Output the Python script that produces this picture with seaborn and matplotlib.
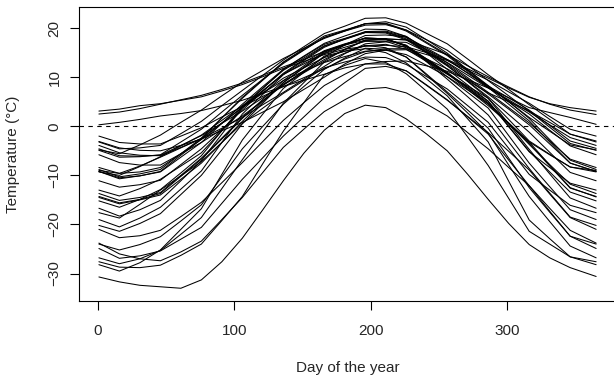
import matplotlib
matplotlib.use("Agg")
import matplotlib.pyplot as plt
import seaborn as sns
import pandas as pd

# dias donde se leen los valores de cada curva
days = [1, 16, 31, 46, 61, 76, 91, 106, 121, 136, 151, 166, 181, 196, 211, 226, 241, 256, 271, 286, 301, 316, 331, 346, 365]

## Temperaturas (una lista por estacion)
st_johns = [-3.1, -4.4, -4.9, -5.0, -3.9, -2.6, -0.9, 0.8, 2.9, 5.0, 7.5, 10.0, 12.7, 14.8, 15.5, 15.6, 13.7, 11.7, 9.3, 6.8, 5.0, 3.1, 0.8, -1.6, -3.0]
halifax = [-4.6, -6.0, -6.1, -5.9, -3.9, -1.9, 0.6, 3.1, 5.8, 8.4, 10.9, 13.3, 15.7, 17.5, 17.8, 17.6, 15.6, 13.5, 10.9, 8.2, 5.8, 3.3, 0.2, -3.0, -4.5]
sydney = [-3.9, -5.4, -5.9, -6.0, -4.3, -2.5, -0.4, 1.8, 4.4, 6.9, 9.6, 12.2, 14.8, 16.8, 17.2, 17.1, 15.1, 13.0, 10.4, 7.8, 5.4, 2.9, 0.3, -2.3, -3.9]
yarmouth = [-2.0, -3.3, -3.6, -3.6, -2.0, -0.3, 1.9, 4.0, 6.1, 8.1, 9.9, 11.7, 13.7, 15.2, 15.8, 15.8, 14.6, 13.4, 11.4, 9.4, 7.0, 4.7, 2.0, -0.6, -2.0]
charlottetown = [-5.8, -7.4, -7.9, -7.9, -5.6, -3.3, -0.6, 2.1, 5.2, 8.4, 11.3, 14.1, 16.6, 18.5, 18.6, 18.2, 15.9, 13.6, 10.8, 7.9, 5.2, 2.5, -0.8, -4.0, -5.8]
fredericton = [-8.4, -9.6, -9.3, -8.4, -5.6, -2.7, 0.6, 3.9, 7.3, 10.6, 13.4, 16.1, 17.8, 19.3, 19.4, 18.3, 15.6, 12.9, 9.9, 6.9, 3.8, 0.7, -3.0, -6.7, -8.4]
schefferville = [-21.0, -22.7, -22.3, -21.2, -18.4, -15.5, -11.5, -7.4, -3.1, 1.2, 4.8, 8.3, 10.6, 12.7, 12.7, 11.3, 8.3, 5.3, 2.0, -1.3, -5.1, -8.9, -13.8, -18.6, -21.0]
arvida = [-14.3, -15.6, -14.9, -13.7, -10.2, -6.7, -2.6, 1.6, 5.5, 9.3, 12.3, 15.3, 16.7, 18.0, 17.8, 16.3, 13.7, 11.0, 7.8, 4.5, 0.5, -3.5, -8.1, -12.6, -14.3]
bagotville = [-14.5, -15.8, -15.0, -14.0, -10.8, -7.5, -3.3, 1.0, 5.0, 8.9, 11.9, 14.9, 16.5, 18.0, 17.8, 16.3, 13.5, 10.7, 7.5, 4.2, 0.5, -3.2, -7.9, -12.5, -14.4]
quebec = [-11.1, -12.4, -11.9, -11.0, -7.8, -4.6, -0.7, 3.3, 7.1, 10.8, 13.6, 16.3, 17.7, 19.1, 19.0, 17.6, 15.0, 12.3, 9.2, 6.0, 2.4, -1.2, -5.3, -9.4, -11.1]
sherbrooke = [-9.2, -10.5, -10.1, -9.3, -6.3, -3.3, 0.6, 4.5, 8.1, 11.6, 14.2, 16.7, 17.9, 19.2, 19.2, 17.8, 15.2, 12.6, 9.6, 6.6, 3.5, 0.3, -3.6, -7.5, -9.2]
montreal = [-8.8, -10.3, -9.7, -8.8, -5.6, -2.4, 1.7, 5.7, 9.4, 13.0, 15.6, 18.1, 19.5, 20.9, 21.0, 19.6, 17.1, 14.6, 11.5, 8.3, 5.0, 1.6, -2.7, -6.9, -8.8]
ottawa = [-9.2, -10.7, -10.1, -9.2, -5.9, -2.6, 1.7, 5.9, 9.5, 13.1, 15.8, 18.4, 19.6, 20.9, 20.9, 19.4, 16.9, 14.4, 11.2, 7.9, 4.5, 1.1, -3.2, -7.5, -9.2]
toronto = [-3.2, -4.6, -4.4, -3.9, -1.5, 1.0, 4.2, 7.3, 10.4, 13.5, 16.2, 18.9, 20.4, 22.0, 22.1, 21.0, 18.9, 16.8, 13.7, 10.5, 7.5, 4.4, 1.4, -1.6, -3.2]
london = [-4.9, -6.3, -6.2, -5.8, -3.2, -0.6, 2.9, 6.3, 9.6, 12.8, 15.5, 18.1, 19.4, 20.6, 20.7, 19.6, 17.6, 15.5, 12.4, 9.3, 6.2, 3.1, -0.2, -3.5, -4.9]
thunder_bay = [-13.7, -15.1, -14.5, -13.5, -10.0, -6.5, -2.4, 1.8, 5.2, 8.6, 11.1, 13.6, 15.6, 17.6, 17.6, 16.5, 13.7, 10.8, 7.8, 4.8, 0.6, -3.7, -7.8, -11.8, -13.7]
winnipeg = [-16.7, -18.3, -17.0, -15.1, -11.1, -7.0, -1.6, 3.8, 7.7, 11.6, 14.3, 16.9, 18.4, 19.8, 19.7, 18.3, 15.4, 12.4, 9.1, 5.7, 0.5, -4.7, -9.7, -14.6, -16.7]
the_pas = [-20.2, -21.4, -19.8, -17.8, -13.9, -10.0, -4.8, 0.5, 4.7, 8.9, 12.0, 15.1, 16.6, 17.9, 17.8, 16.5, 13.1, 9.6, 6.0, 2.3, -3.2, -8.6, -13.6, -18.5, -20.2]
churchill = [-24.9, -26.9, -26.4, -25.4, -23.0, -20.6, -15.7, -10.8, -6.4, -2.0, 1.9, 5.8, 8.9, 11.8, 12.2, 11.3, 8.4, 5.4, 1.9, -1.6, -6.9, -12.1, -17.3, -22.4, -24.9]
regina = [-15.2, -16.5, -14.9, -12.9, -9.5, -6.0, -0.9, 4.1, 7.8, 11.4, 13.9, 16.4, 17.8, 19.1, 19.2, 18.1, 14.9, 11.6, 8.4, 5.1, 0.0, -5.1, -9.3, -13.4, -15.2]
pr_albert = [-19.0, -20.5, -18.7, -16.5, -12.8, -9.1, -3.3, 2.5, 6.5, 10.5, 13.0, 15.4, 16.8, 17.9, 17.8, 16.4, 13.3, 10.1, 6.9, 3.7, -1.9, -7.5, -12.3, -17.0, -19.0]
uranium_city = [-24.0, -25.2, -24.1, -22.5, -19.3, -16.0, -10.3, -4.6, 0.0, 4.5, 8.1, 11.6, 13.9, 15.9, 15.7, 14.1, 10.6, 7.0, 3.3, -0.4, -6.5, -12.5, -17.5, -22.4, -24.0]
edmonton = [-13.0, -14.2, -12.7, -10.8, -8.1, -5.4, -0.9, 3.7, 7.2, 10.6, 12.7, 14.8, 16.1, 17.3, 17.3, 16.0, 13.4, 10.8, 8.0, 5.1, -0.1, -5.2, -8.4, -11.6, -13.0]
calgary = [-9.0, -9.6, -8.1, -6.3, -4.4, -2.5, 0.7, 3.8, 6.8, 9.8, 11.9, 14.0, 15.3, 16.4, 16.7, 15.7, 13.2, 10.6, 8.2, 5.7, 1.4, -3.0, -5.7, -8.3, -9.0]
kamloops = [-4.8, -5.6, -3.8, -1.8, 0.8, 3.3, 6.2, 9.0, 11.4, 13.8, 15.9, 17.9, 19.4, 20.9, 21.3, 20.2, 17.6, 14.9, 11.5, 8.1, 5.0, 1.8, -1.0, -3.8, -4.8]
vancouver = [2.5, 2.9, 3.6, 4.5, 5.4, 6.3, 7.5, 8.8, 10.4, 12.1, 13.6, 15.2, 16.6, 17.5, 17.8, 17.6, 16.1, 14.6, 12.3, 10.1, 8.0, 6.0, 4.5, 3.3, 2.4]
victoria = [3.1, 3.5, 4.2, 4.6, 5.3, 6.0, 7.2, 8.5, 10.1, 11.8, 13.2, 14.6, 15.7, 16.3, 16.5, 16.2, 15.0, 13.6, 11.7, 9.8, 7.8, 5.9, 4.6, 3.8, 3.1]
pr_george = [-9.3, -10.0, -8.2, -6.2, -4.0, -1.8, 1.2, 4.2, 6.8, 9.3, 11.2, 13.0, 14.2, 15.3, 15.5, 14.6, 12.4, 10.1, 7.4, 4.6, 0.7, -3.2, -5.8, -8.3, -9.3]
pr_rupert = [0.3, 0.8, 1.4, 2.1, 2.6, 3.2, 4.2, 5.3, 6.7, 8.1, 9.4, 10.6, 11.9, 12.7, 13.2, 13.3, 12.3, 11.2, 9.5, 7.8, 5.8, 3.8, 2.8, 1.8, 0.4]
whitehorse = [-17.6, -18.7, -15.9, -13.0, -10.1, -7.2, -3.3, 0.6, 3.7, 6.7, 9.3, 11.9, 13.1, 14.1, 14.0, 12.6, 10.1, 7.6, 4.2, 0.8, -4.5, -9.8, -13.0, -16.1, -17.6]
dawson = [-28.2, -29.5, -27.8, -25.2, -21.0, -16.8, -9.8, -2.8, 2.5, 7.7, 11.0, 14.3, 15.3, 15.8, 15.0, 12.9, 9.6, 6.2, 1.5, -3.2, -11.2, -19.1, -22.9, -26.6, -28.2]
yellowknife = [-26.8, -28.0, -27.0, -25.3, -22.0, -18.6, -12.7, -6.8, -1.1, 4.7, 8.9, 13.1, 14.9, 16.5, 16.0, 14.1, 10.4, 6.7, 2.7, -1.4, -7.9, -14.3, -19.4, -24.4, -26.8]
iqaluit = [-23.8, -26.0, -27.0, -27.4, -25.6, -23.4, -19.0, -14.5, -9.4, -4.3, -0.6, 3.0, 5.4, 7.6, 7.9, 6.8, 4.5, 2.1, -1.3, -4.6, -8.4, -12.1, -16.7, -21.2, -23.8]
inuvik = [-27.6, -28.7, -28.8, -28.3, -26.3, -24.0, -19.2, -14.3, -7.6, -1.0, 4.8, 10.5, 12.4, 13.8, 13.0, 10.7, 7.1, 3.5, -2.2, -8.0, -14.7, -21.4, -24.0, -26.6, -27.6]
resolute = [-30.7, -31.7, -32.4, -32.7, -33.0, -31.3, -27.6, -22.8, -17.0, -11.1, -5.5, -0.8, 2.6, 4.3, 3.8, 1.5, -1.6, -5.0, -9.8, -14.9, -19.8, -24.1, -26.8, -28.8, -30.6]

estaciones = {
    "St. Johns": st_johns, "Halifax": halifax, "Sydney": sydney, "Yarmouth": yarmouth,
    "Charlottvl": charlottetown, "Fredericton": fredericton, "Scheffervll": schefferville,
    "Arvida": arvida, "Bagottville": bagotville, "Quebec": quebec, "Sherbrooke": sherbrooke,
    "Montreal": montreal, "Ottawa": ottawa, "Toronto": toronto, "London": london,
    "Thunder Bay": thunder_bay, "Winnipeg": winnipeg, "The Pas": the_pas, "Churchill": churchill,
    "Regina": regina, "Pr. Albert": pr_albert, "Uranium Cty": uranium_city, "Edmonton": edmonton,
    "Calgary": calgary, "Kamloops": kamloops, "Vancouver": vancouver, "Victoria": victoria,
    "Pr. George": pr_george, "Pr. Rupert": pr_rupert, "Whitehorse": whitehorse, "Dawson": dawson,
    "Yellowknife": yellowknife, "Iqaluit": iqaluit, "Inuvik": inuvik, "Resolute": resolute,
}

filas = []
for nombre, temps in estaciones.items():
    for d, t in zip(days, temps):
        filas.append({"station": nombre, "day": d, "temp": t})
df_temp = pd.DataFrame(filas)

sns.set_style("white")
plt.rcParams["font.family"] = ["Liberation Sans", "DejaVu Sans"]

fig = plt.figure(figsize=(6.14, 3.75), dpi=100)
ax = fig.add_axes([0.1287, 0.1973, 0.8746, 0.784])

sns.lineplot(data=df_temp, x="day", y="temp", units="station", estimator=None,
             color="black", linewidth=0.75, legend=False, ax=ax)
ax.axhline(0, color="black", linewidth=0.8, linestyle=(0, (4, 4)))

ax.set_xlim(-13.56, 379.56)
ax.set_ylim(-35.6, 24.3)
ax.set_xticks([0, 100, 200, 300])
ax.set_yticks([-30, -20, -10, 0, 10, 20])

for lado in ["left", "bottom", "top", "right"]:
    ax.spines[lado].set_color("black")
    ax.spines[lado].set_linewidth(0.8)

ax.tick_params(axis="both", direction="out", length=6.5, width=0.8, labelsize=11,
               bottom=True, left=True, color="black")
ax.tick_params(axis="x", pad=10)
ax.tick_params(axis="y", pad=6)
plt.setp(ax.get_yticklabels(), rotation=90, va="center")

ax.set_xlabel("Day of the year", fontsize=11)
ax.set_ylabel("Temperature (°C)", fontsize=11)
ax.xaxis.set_label_coords(0.5, -0.205)
ax.yaxis.set_label_coords(-0.11, 0.5)

fig.savefig("out.png", dpi=100)
